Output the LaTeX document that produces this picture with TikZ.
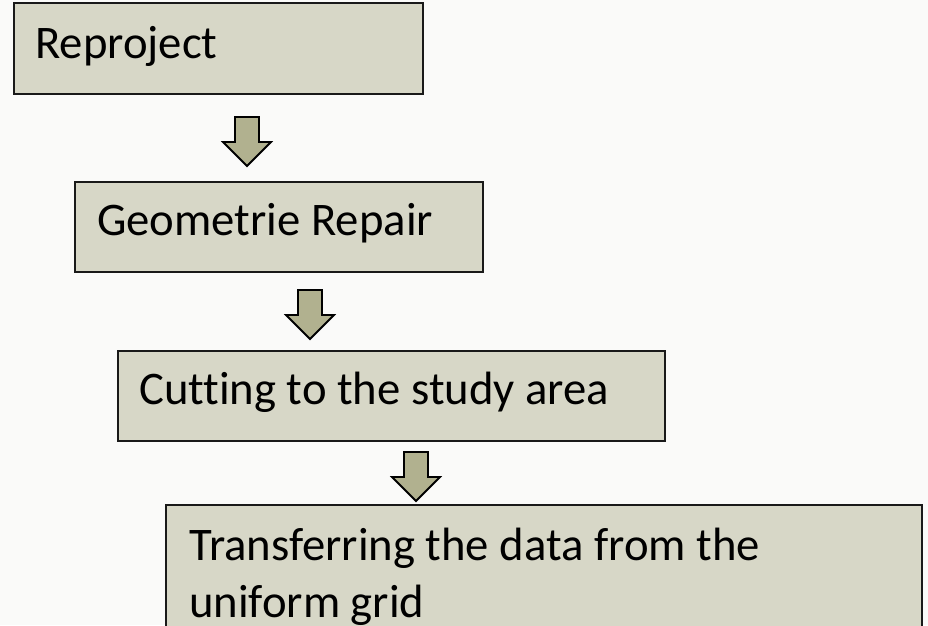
\documentclass[tikz,border=0pt]{standalone}
\usepackage{fontspec}
\setmainfont{Carlito}[Ligatures=CommonOff]
\definecolor{bg}{RGB}{250,250,249}
\definecolor{boxfill}{RGB}{215,215,199}
\definecolor{boxline}{RGB}{25,25,25}
\definecolor{arrfill}{RGB}{177,177,143}
\tikzset{
  stepbox/.style={draw=boxline, fill=boxfill, line width=2pt},
  boxtext/.style={anchor=base west, inner sep=0pt, font=\fontsize{46.7}{57}\selectfont, text=black},
  blockarrow/.style={draw=black, fill=arrfill, line width=1.8pt, line join=miter}
}
\begin{document}
\begin{tikzpicture}[x=1pt,y=-1pt]
\fill[bg] (0,0) rectangle (928,625);
\useasboundingbox (0,0) rectangle (928,625);
\clip (0,0) rectangle (928,625);
% boxes
\draw[stepbox] (14,3) rectangle (423,94);
\draw[stepbox] (75,182) rectangle (483,272);
\draw[stepbox] (118,351) rectangle (665,441);
\draw[stepbox] (166,505) rectangle (922,660);
% texts
\node[boxtext] (t1) at (35,58) {Reproject};
\node[boxtext] (t2) at (97,235) {Geometrie Repair};
\node[boxtext] (t3) at (139,404) {Cutting to the study area};
\node[boxtext] (t4a) at (189,560) {Transferring the data from the};
\node[boxtext] (t4b) at (189,617) {uniform grid};
% arrow tips
\coordinate (a1) at (247,166);
\coordinate (a2) at (310,339);
\coordinate (a3) at (416,501);
\foreach \a in {a1,a2,a3}{
  \draw[blockarrow, shift={(\a)}] (-12,-49) -- (12,-49) -- (12,-24) -- (24,-24) -- (0,0) -- (-24,-24) -- (-12,-24) -- cycle;
}
\end{tikzpicture}
\end{document}
